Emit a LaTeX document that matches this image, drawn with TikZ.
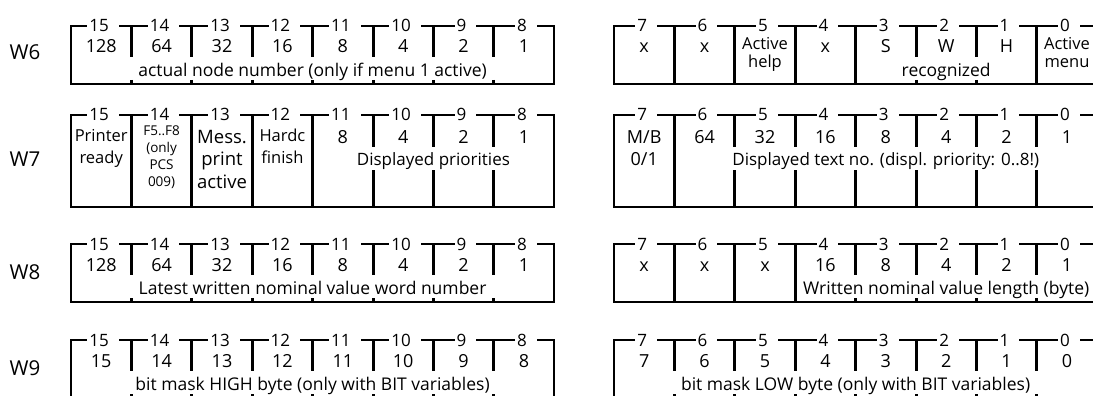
\documentclass[tikz,border=0pt]{standalone}
\usepackage{fontspec}
\setmainfont{Open Sans}

\newcommand{\valfont}{\fontsize{18}{22.5}\selectfont}
\newcommand{\descfont}{\fontsize{17.5}{20}\selectfont}
\newcommand{\bigdescfont}{\fontsize{17}{20}\selectfont}
\newcommand{\bitfont}{\fontsize{17}{20}\selectfont}
\newcommand{\twofont}{\fontsize{16.5}{22}\selectfont}
\newcommand{\messfont}{\fontsize{18.5}{22.5}\selectfont}
\newcommand{\actfont}{\fontsize{16.5}{17.5}\selectfont}
\newcommand{\tinyfont}{\fontsize{13.5}{17}\selectfont}
\newcommand{\wfont}{\fontsize{20.5}{22}\selectfont}

\def\cw{60.4}

% frame of one register: x0, top, bottom, highest bit
\newcommand{\regbox}[4]{%
  \draw[frame] (#1,#3) -- (#1,#2) -- ({#1+8*\cw},#2) -- ({#1+8*\cw},#3) -- cycle;
  \foreach \k in {0,...,7}{%
    \pgfmathtruncatemacro{\bitval}{#4-\k}%
    \node[bitno] (bit\bitval-#2) at ({#1+(\k+0.5)*\cw+2},{#2+6}) {\bitval\kern8pt};
  }}
% dividers: x0, top, bottom, list
\newcommand{\fulldiv}[4]{%
  \foreach \k in {#4}
    \draw[divider] ({#1+\k*\cw},#2) -- ({#1+\k*\cw},#3);}
% dividers with a gap: x0, top, bottom, list, gap start, gap end
\newcommand{\splitdiv}[6]{%
  \foreach \k in {#4}
    \draw[divider] ({#1+\k*\cw},#2) -- ({#1+\k*\cw},#5)
                   ({#1+\k*\cw},#6) -- ({#1+\k*\cw},#3);}

\begin{document}
\begin{tikzpicture}[x=1pt, y=-1pt,
    frame/.style={line width=1.8pt},
    divider/.style={line width=3pt},
    bitno/.style={fill=white, inner xsep=2pt, inner ysep=0pt, anchor=base, font=\bitfont},
    value/.style={anchor=base, align=center, inner sep=0pt, font=\valfont},
    desc/.style={anchor=base, inner sep=0pt, font=\descfont},
    regname/.style={anchor=base, inner sep=0pt, font=\wfont}
  ]
  \useasboundingbox (0,0) rectangle (1093,396);
  \clip (0,0) rectangle (1093,396);

  % W6 (multi-line values are placed by their last baseline)
  \node[regname] (w6) at (25,60) {W6};
  \regbox{71}{26}{84}{15}
  \splitdiv{71}{26}{84}{1,...,7}{57}{80}
  \regbox{614}{26}{84}{7}
  \fulldiv{614}{26}{84}{1,2,3,4,7}
  \splitdiv{614}{26}{84}{5,6}{57}{80}
  \foreach \v [count=\k from 0] in {128,64,32,16,8,4,2,1}
    \node[value] (w6l\k) at ({71+(\k+0.5)*\cw},53) {\v};
  \node[value] (w6r0) at ({614+0.5*\cw},53) {x};
  \node[value] (w6r1) at ({614+1.5*\cw},53) {x};
  \node[value, font=\actfont] (w6r2) at ({614+2.5*\cw},67.5) {Active\\help};
  \node[value] (w6r3) at ({614+3.5*\cw},53) {x};
  \node[value] (w6r4) at ({614+4.5*\cw},53) {S};
  \node[value] (w6r5) at ({614+5.5*\cw},53) {W};
  \node[value] (w6r6) at ({614+6.5*\cw},53) {H};
  \node[value, font=\actfont] (w6r7) at ({614+7.5*\cw},67.5) {Active\\menu};
  \node[desc] (w6ld) at ({71+4*\cw},76.5) {actual node number (only if menu 1 active)};
  \node[desc] (w6rd) at ({614+5.5*\cw},76.5) {recognized};

  % W7
  \node[regname] (w7) at (25,166) {W7};
  \regbox{71}{115}{207}{15}
  \fulldiv{71}{115}{207}{1,2,3,4}
  \splitdiv{71}{115}{207}{5,6,7}{147}{170}
  \regbox{614}{115}{207}{7}
  \fulldiv{614}{115}{207}{1}
  \splitdiv{614}{115}{207}{2,...,7}{147}{170}
  \node[value, font=\twofont] (w7l0) at ({71+0.5*\cw},163) {Printer\\ready};
  \node[value, font=\tinyfont] (w7l1) at ({71+1.5*\cw},186) {F5..F8\\(only\\PCS\\009)};
  \node[value, font=\messfont] (w7l2) at ({71+2.5*\cw},188) {Mess.\\print\\active};
  \node[value, font=\twofont] (w7l3) at ({71+3.5*\cw},163) {Hardc\\finish};
  \foreach \v [count=\k from 4] in {8,4,2,1}
    \node[value] (w7l\k) at ({71+(\k+0.5)*\cw},143) {\v};
  \node[value] (w7r0) at ({614+0.5*\cw},165.5) {M/B\\0/1};
  \foreach \v [count=\k from 1] in {64,32,16,8,4,2,1}
    \node[value] (w7r\k) at ({614+(\k+0.5)*\cw},143) {\v};
  \node[desc, font=\bigdescfont] (w7ld) at ({71+6*\cw},165) {Displayed priorities};
  \node[desc, font=\bigdescfont] (w7rd) at ({614+4.5*\cw},165) {Displayed text no. (displ. priority: 0..8!)};

  % W8
  \node[regname] (w8) at (25,279) {W8};
  \regbox{71}{244}{302}{15}
  \splitdiv{71}{244}{302}{1,...,7}{275}{298}
  \regbox{614}{244}{302}{7}
  \fulldiv{614}{244}{302}{1,2,3}
  \splitdiv{614}{244}{302}{4,...,7}{275}{298}
  \foreach \v [count=\k from 0] in {128,64,32,16,8,4,2,1}
    \node[value] (w8l\k) at ({71+(\k+0.5)*\cw},271) {\v};
  \foreach \v [count=\k from 0] in {x,x,x,16,8,4,2,1}
    \node[value] (w8r\k) at ({614+(\k+0.5)*\cw},271) {\v};
  \node[desc] (w8ld) at ({71+4*\cw},294.5) {Latest written nominal value word number};
  \node[desc] (w8rd) at ({614+5.5*\cw},294.5) {Written nominal value length (byte)};

  % W9
  \node[regname] (w9) at (25,375) {W9};
  \regbox{71}{340}{398}{15}
  \splitdiv{71}{340}{398}{1,...,7}{371}{394}
  \regbox{614}{340}{398}{7}
  \splitdiv{614}{340}{398}{1,...,7}{371}{394}
  \foreach \v [count=\k from 0] in {15,14,13,12,11,10,9,8}
    \node[value] (w9l\k) at ({71+(\k+0.5)*\cw},367) {\v};
  \foreach \v [count=\k from 0] in {7,6,5,4,3,2,1,0}
    \node[value] (w9r\k) at ({614+(\k+0.5)*\cw},367) {\v};
  \node[desc] (w9ld) at ({71+4*\cw},390.5) {bit mask HIGH byte (only with BIT variables)};
  \node[desc] (w9rd) at ({614+4*\cw},390.5) {bit mask LOW byte (only with BIT variables)};
\end{tikzpicture}
\end{document}
